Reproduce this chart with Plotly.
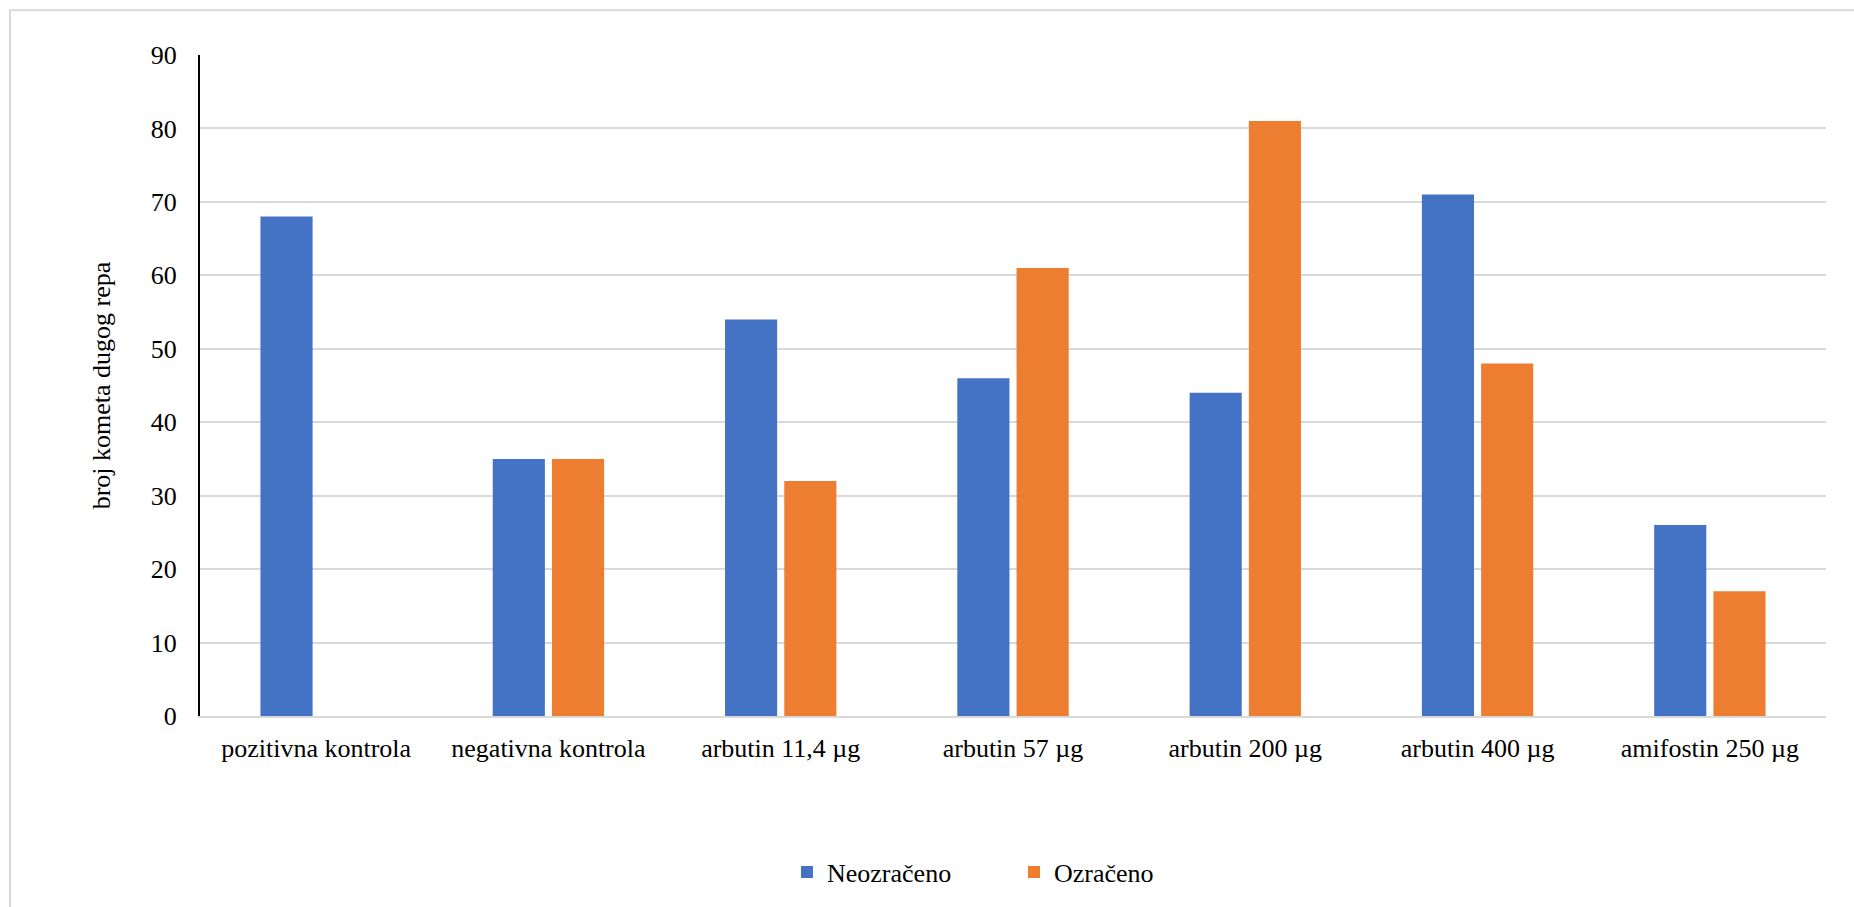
import plotly.graph_objects as go

categories = ["pozitivna kontrola", "negativna kontrola", "arbutin 11,4 µg",
              "arbutin 57 µg", "arbutin 200 µg", "arbutin 400 µg", "amifostin 250 µg"]
neozraceno = [68, 35, 54, 46, 44, 71, 26]
ozraceno = [None, 35, 32, 61, 81, 48, 17]
series_names = ["Neozračeno", "Ozračeno"]
y_ticks = [0, 10, 20, 30, 40, 50, 60, 70, 80, 90]

FONT = "Liberation Serif, Times New Roman, serif"

fig = go.Figure()
fig.add_trace(go.Bar(x=categories, y=neozraceno, name=series_names[0],
                     marker=dict(color="#4472C4", line=dict(width=0))))
fig.add_trace(go.Bar(x=categories, y=ozraceno, name=series_names[1],
                     marker=dict(color="#ED7D31", line=dict(width=0))))

fig.update_layout(
    width=1854, height=907,
    margin=dict(l=200, r=28, t=55, b=188),
    paper_bgcolor="white", plot_bgcolor="white",
    barmode="group", bargap=0.49, bargroupgap=0.12,
    font=dict(family=FONT, size=26, color="#000000"),
    showlegend=True,
    legend=dict(orientation="h", x=(787 - 200) / 1626, xanchor="left", y=-0.2360, yanchor="middle",
                font=dict(family=FONT, size=26, color="#000000"),
                entrywidth=182, traceorder="normal"),
    xaxis=dict(showline=True, linecolor="#d9d9d9", linewidth=2, showgrid=False,
               ticks="outside", ticklen=8, tickcolor="rgba(0,0,0,0)",
               tickfont=dict(family=FONT, size=26, color="#000000"), fixedrange=True),
    yaxis=dict(range=[0, 90], tickvals=y_ticks, showline=True, linecolor="#000000", linewidth=2,
               showgrid=True, gridcolor="#d9d9d9", gridwidth=1.5, zeroline=False,
               ticks="outside", ticklen=16, tickcolor="rgba(0,0,0,0)",
               tickfont=dict(family=FONT, size=26, color="#000000"),
               title=dict(text="broj kometa dugog repa", standoff=33,
                          font=dict(family=FONT, size=26, color="#000000")),
               fixedrange=True),
    shapes=[dict(type="rect", xref="paper", yref="paper",
                 x0=(10 - 200) / 1626, x1=1.2, y0=-0.5, y1=(719 - 10) / 664,
                 line=dict(color="#d9d9d9", width=2), fillcolor="rgba(0,0,0,0)", layer="below")],
)

fig.write_html("out.html", config={"displayModeBar": False},
               post_script="document.body.style.margin='0px';document.body.style.overflow='hidden';")
